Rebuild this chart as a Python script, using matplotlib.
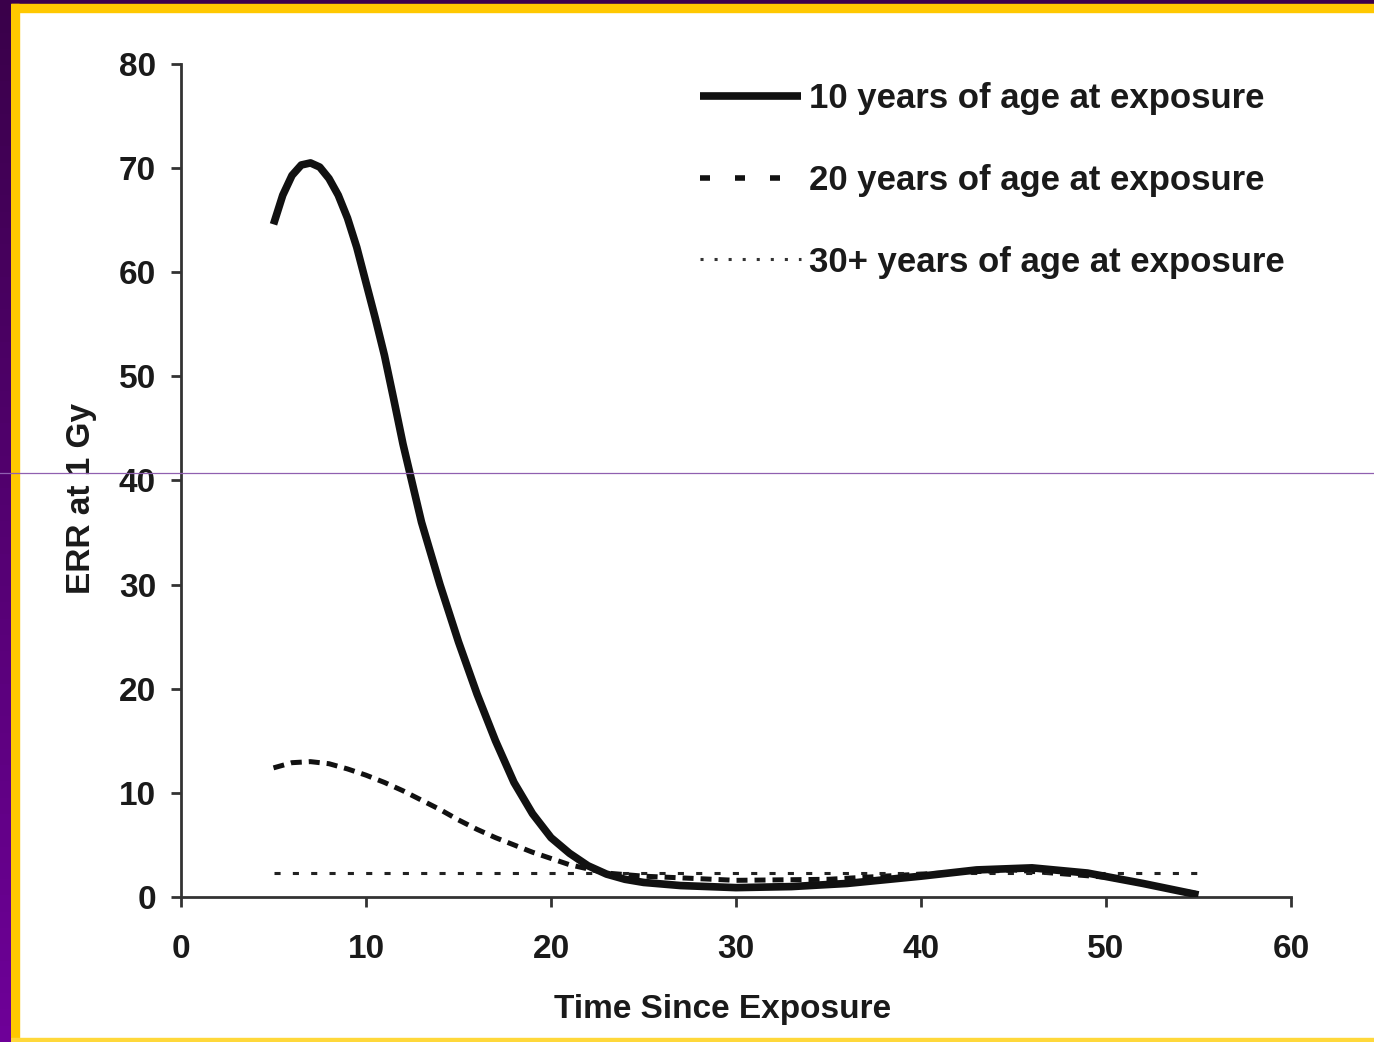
import numpy as np
import matplotlib.pyplot as plt
from matplotlib.lines import Line2D
from matplotlib.patches import Rectangle
from matplotlib.colors import LinearSegmentedColormap

plt.rcParams['font.family'] = ['Liberation Sans', 'DejaVu Sans']
plt.rcParams['font.weight'] = 'bold'

# values
t10 = [5, 5.5, 6, 6.5, 7, 7.5, 8, 8.5, 9, 9.5, 10, 10.5, 11, 11.5, 12, 13, 14,
       15, 16, 17, 18, 19, 20, 21, 22, 23, 24, 25, 27, 30, 33, 36, 40, 43, 46,
       49, 52, 55]
err10 = [64.6, 67.4, 69.3, 70.3, 70.5, 70.1, 69.0, 67.4, 65.2, 62.4, 59.0, 55.6,
         52.0, 47.8, 43.5, 36.0, 30.0, 24.5, 19.5, 15.0, 11.0, 8.0, 5.7, 4.2,
         3.0, 2.2, 1.7, 1.4, 1.1, 0.9, 1.0, 1.3, 2.0, 2.6, 2.8, 2.3, 1.3, 0.2]
t20 = [5, 6, 7, 8, 9, 10, 11, 12, 13, 14, 15, 16, 17, 18, 19, 20, 21, 22, 23,
       25, 30, 35, 40, 45, 50, 55]
err20 = [12.4, 12.9, 13.0, 12.8, 12.3, 11.7, 11.0, 10.2, 9.3, 8.4, 7.4, 6.5,
         5.7, 5.0, 4.3, 3.7, 3.1, 2.7, 2.3, 2.0, 1.6, 1.7, 2.2, 2.6, 1.9, 0.3]
t30 = [5, 55]
err30 = [2.3, 2.3]

labels = ['10 years of age at exposure', '20 years of age at exposure',
          '30+ years of age at exposure']

fig = plt.figure(figsize=(13.74, 10.42), dpi=100)
fig.patch.set_facecolor('white')

# frame around the slide: purple strips and yellow border
W, H = 1374, 1042
bg = fig.add_axes([0, 0, 11 / W, 1])
bg.imshow(np.linspace(0, 1, 64).reshape(-1, 1), aspect='auto',
          cmap=LinearSegmentedColormap.from_list('p', ['#3a004a', '#6e0098']),
          extent=[0, 1, 0, 1])
bg.axis('off')
fig.add_artist(Rectangle((0, 1 - 4 / H), 1, 4 / H, transform=fig.transFigure,
                         color='#3c004c', zorder=0))
fig.add_artist(Rectangle((11 / W, 1 - 12 / H), 1, 8 / H, transform=fig.transFigure,
                         color='#ffc800', zorder=0))
fig.add_artist(Rectangle((11 / W, 0), 8 / W, 1 - 4 / H, transform=fig.transFigure,
                         color='#ffc800', zorder=0))
fig.add_artist(Rectangle((11 / W, 0), 1, 4 / H, transform=fig.transFigure,
                         color='#ffd83a', zorder=0))

ax = fig.add_axes([181 / W, 1 - 897 / H, 1110 / W, 833 / H])
ax.set_facecolor('none')

ax.plot(t10, err10, color='#111111', lw=5.5, solid_joinstyle='round',
        solid_capstyle='butt', zorder=3)
ax.plot(t20, err20, color='#111111', lw=3.6, dashes=(2.2, 1.4), zorder=2)
ax.plot(t30, err30, color='#222222', lw=2.2, dashes=(2.0, 4.0), zorder=2)

ax.set_xlim(0, 60)
ax.set_ylim(0, 80)
ax.set_xticks(range(0, 61, 10))
ax.set_yticks(range(0, 81, 10))
for s in ['top', 'right']:
    ax.spines[s].set_visible(False)
for s in ['left', 'bottom']:
    ax.spines[s].set_color('#333333')
    ax.spines[s].set_linewidth(2)
ax.tick_params(axis='both', direction='out', length=7, width=2, color='#333333',
               labelsize=24, labelcolor='#1a1a1a')
ax.tick_params(axis='x', pad=20)
ax.tick_params(axis='y', pad=11)

ax.set_xlabel('Time Since Exposure', fontsize=24, fontweight='bold', color='#1a1a1a')
ax.set_ylabel('ERR at 1 Gy', fontsize=24, fontweight='bold', color='#1a1a1a')
ax.xaxis.set_label_coords(0.488, -0.116)
ax.yaxis.set_label_coords(-0.076, 0.478)

handles = [
    Line2D([], [], color='#111111', lw=5.5, solid_capstyle='butt'),
    Line2D([], [], color='#111111', lw=4.0, dashes=(1.8, 4.5)),
    Line2D([], [], color='#333333', lw=2.2, dashes=(1.0, 3.6)),
]
ax.legend(handles, labels, loc='upper left', bbox_to_anchor=(0.4676, 0.978),
          frameon=False, fontsize=25, handlelength=2.9, handletextpad=0.25,
          labelspacing=1.40, borderpad=0, borderaxespad=0, labelcolor='#1a1a1a')

# thin purple rule crossing the slide
fig.add_artist(Line2D([0, 1], [1 - 473 / H, 1 - 473 / H], transform=fig.transFigure,
                      color='#9060b0', lw=0.9, zorder=10))

fig.savefig('out.png', dpi=100)
